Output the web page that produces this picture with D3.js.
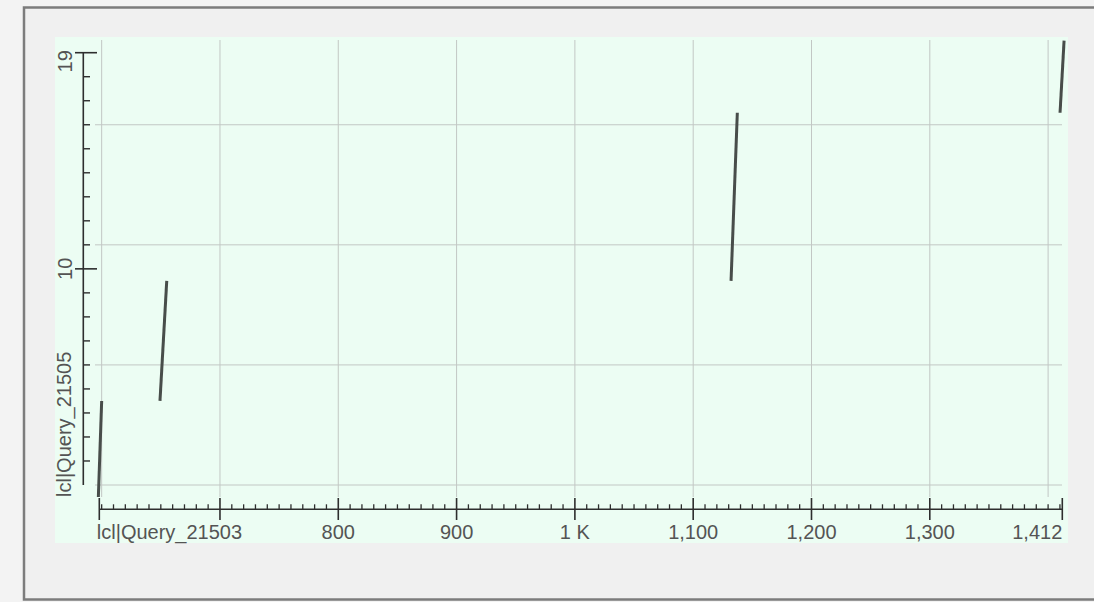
<!DOCTYPE html>
<html>
<head>
<meta charset="utf-8">
<script src="https://cdn.jsdelivr.net/npm/d3@7/dist/d3.min.js"></script>
<style>
  html, body { margin: 0; padding: 0; background: #f2f2f2; }
  svg { display: block; }
  text { font-family: "Liberation Sans", Arial, sans-serif; fill: #545454; }
</style>
</head>
<body>
<svg id="chart" width="1094" height="602"></svg>
<script>
// ---- data ----
const segX1 = [597.2, 649.3, 1132, 1410.1];
const segX2 = [600.0, 655.0, 1137.3, 1413.5];
const segY1 = [0.5, 4.5, 9.5, 16.5];
const segY2 = [4.5, 9.5, 16.5, 19.5];

const xDomain = [598, 1412];
const yDomain = [1, 19];

const xMajorTicks = [598, 700, 800, 900, 1000, 1100, 1200, 1300, 1412];
const xTickLabels = ["lcl|Query_21503", "", "800", "900", "1 K", "1,100", "1,200", "1,300", "1,412"];
const xGridValues = [600, 700, 800, 900, 1000, 1100, 1200, 1300, 1400];
const yMajorTicks = [10, 19];
const yTickLabels = ["10", "19"];
const yGridValues = [1, 6, 11, 16];
const xTitle = "lcl|Query_21503";
const yTitle = "lcl|Query_21505";

// ---- layout ----
const svg = d3.select("#chart");
const x = d3.scaleLinear().domain(xDomain).range([99.3, 1062.3]);
const y = d3.scaleLinear().domain(yDomain).range([485, 52.7]);
const FS = 20;

// outer frame
svg.append("rect").attr("x", 0).attr("y", 0).attr("width", 1094).attr("height", 602).attr("fill", "#f3f3f3");
svg.append("rect").attr("x", 24).attr("y", 7.5).attr("width", 1090).attr("height", 592)
  .attr("fill", "#f0f0f0").attr("stroke", "#7c7c7c").attr("stroke-width", 2.5);

// plot background
svg.append("rect").attr("x", 55).attr("y", 37).attr("width", 1013).attr("height", 506).attr("fill", "#ecfdf3");

// grid
svg.append("g").selectAll("line").data(xGridValues).join("line")
  .attr("x1", d => x(d)).attr("x2", d => x(d))
  .attr("y1", 40).attr("y2", 497)
  .attr("stroke", "#c2c7c4").attr("stroke-width", 1);
svg.append("g").selectAll("line").data(yGridValues).join("line")
  .attr("x1", 95).attr("x2", 1062)
  .attr("y1", d => y(d)).attr("y2", d => y(d))
  .attr("stroke", "#c2c7c4").attr("stroke-width", 1);

// y axis
const yAxis = svg.append("g");
const y0 = y(yDomain[0]), y1 = y(yDomain[1]);
yAxis.append("line").attr("x1", 83.3).attr("x2", 83.3).attr("y1", y1).attr("y2", y0)
  .attr("stroke", "#2e2e2e").attr("stroke-width", 1.6);
const yMinor = d3.range(2, 19).filter(v => !yMajorTicks.includes(v));
yAxis.selectAll(".ymin").data(yMinor).join("line")
  .attr("x1", 83.3).attr("x2", 90).attr("y1", d => y(d)).attr("y2", d => y(d))
  .attr("stroke", "#2e2e2e").attr("stroke-width", 1.4);
yAxis.selectAll(".ymaj").data(yMajorTicks).join("line")
  .attr("x1", 75).attr("x2", 97).attr("y1", d => y(d)).attr("y2", d => y(d))
  .attr("stroke", "#2e2e2e").attr("stroke-width", 1.6);
yAxis.selectAll("text").data(yMajorTicks).join("text")
  .attr("transform", d => `translate(72, ${d === yDomain[1] ? y(d) - 2.5 : y(d)}) rotate(-90)`)
  .attr("text-anchor", d => d === yDomain[1] ? "end" : "middle")
  .attr("font-size", FS)
  .text((d, i) => yTickLabels[i]);
svg.append("text")
  .attr("transform", `translate(71, 497) rotate(-90)`)
  .attr("text-anchor", "start").attr("font-size", FS)
  .text(yTitle);

// x axis
const xAxis = svg.append("g");
const axY = 509.3;
xAxis.append("line").attr("x1", x(xDomain[0])).attr("x2", x(xDomain[1])).attr("y1", axY).attr("y2", axY)
  .attr("stroke", "#2e2e2e").attr("stroke-width", 1.6);
const xMinor = d3.range(600, 1411, 10).filter(v => !xMajorTicks.includes(v));
xAxis.selectAll(".xmin").data(xMinor).join("line")
  .attr("x1", d => x(d)).attr("x2", d => x(d)).attr("y1", axY - 5).attr("y2", axY)
  .attr("stroke", "#2e2e2e").attr("stroke-width", 1.3);
xAxis.selectAll(".xmaj").data(xMajorTicks).join("line")
  .attr("x1", d => x(d)).attr("x2", d => x(d)).attr("y1", 498).attr("y2", 520)
  .attr("stroke", "#2e2e2e").attr("stroke-width", 1.6);
xAxis.selectAll("text").data(xMajorTicks).join("text")
  .attr("x", (d, i) => i === 0 ? x(d) - 2.5 : x(d))
  .attr("y", 538.5)
  .attr("text-anchor", (d, i) => i === 0 ? "start" : (i === xMajorTicks.length - 1 ? "end" : "middle"))
  .attr("font-size", FS)
  .text((d, i) => i === 0 ? xTitle : xTickLabels[i]);

// data segments
const segs = segX1.map((v, i) => ({ x1: v, x2: segX2[i], y1: segY1[i], y2: segY2[i] }));
svg.append("g").selectAll("line").data(segs).join("line")
  .attr("x1", d => x(d.x1)).attr("x2", d => x(d.x2))
  .attr("y1", d => y(d.y1)).attr("y2", d => y(d.y2))
  .attr("stroke", "#484d4a").attr("stroke-width", 3).attr("stroke-linecap", "butt");
</script>
</body>
</html>
